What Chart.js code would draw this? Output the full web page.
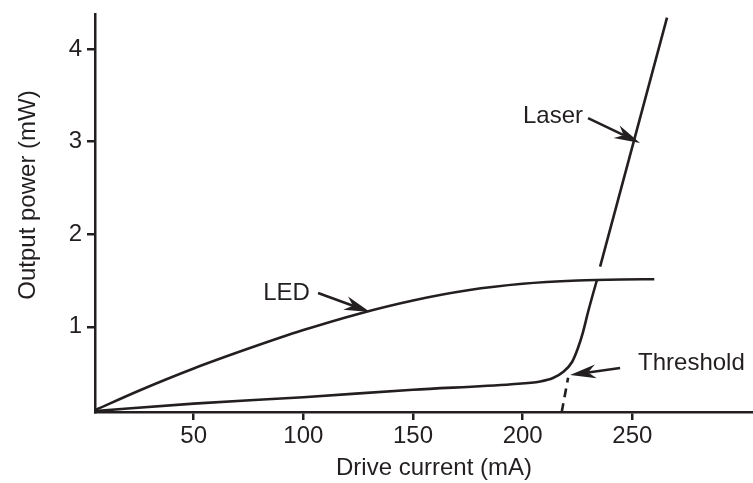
<!DOCTYPE html>
<html>
<head>
<meta charset="utf-8">
<script src="https://cdn.jsdelivr.net/npm/chart.js@4"></script>
<style>
  html, body { margin: 0; padding: 0; background: #fff; }
  #wrap { width: 753px; height: 483px; }
</style>
</head>
<body>
<div id="wrap"><canvas id="chart"></canvas></div>
<script>
// values (x = drive current mA, y = output power mW)
var ledX = [5, 25, 50, 75, 100, 125, 150, 175, 200, 225, 245, 260];
var ledY = [0.10, 0.31, 0.55, 0.765, 0.965, 1.14, 1.285, 1.395, 1.465, 1.50, 1.512, 1.515];

var laserLowX = [5, 50, 100, 150, 195, 208, 213.8, 218.4, 222.5, 225.2, 227.5, 229.8, 232.1, 233.9];
var laserLowY = [0.09, 0.17, 0.24, 0.32, 0.38, 0.41, 0.447, 0.512, 0.62, 0.771, 0.944, 1.16, 1.36, 1.51];

var laserHighX = [235.3, 265.8];
var laserHighY = [1.65, 4.34];

var thresholdX = [217.8, 220.7];
var thresholdY = [0.08, 0.45];

var xTicks = [50, 100, 150, 200, 250];
var yTicks = [1, 2, 3, 4];

var xTitle = "Drive current (mA)";
var yTitle = "Output power (mW)";

// callouts: text at (tx,ty), arrow from (ax,ay) to (bx,by), all in data units
var notes = [
  {text: "LED", tx: 103, ty: 1.36, align: "right", ax: 106.7, ay: 1.366, bx: 130.4, by: 1.16},
  {text: "Laser", tx: 227.5, ty: 3.27, align: "right", ax: 229.8, ay: 3.256, bx: 253.5, by: 2.986},
  {text: "Threshold", tx: 252.6, ty: 0.60, align: "left", ax: 244.4, ay: 0.555, bx: 221.6, by: 0.48}
];

var INK = "#231f20";
var FONT = "'Liberation Sans', Arial, sans-serif";

function pts(xs, ys) {
  var out = [];
  for (var i = 0; i < xs.length; i++) out.push({x: xs[i], y: ys[i]});
  return out;
}

function drawArrow(ctx, x1, y1, x2, y2) {
  var ang = Math.atan2(y2 - y1, x2 - x1);
  var len = 26, half = 7;
  ctx.save();
  ctx.translate(x2, y2);
  ctx.rotate(ang);
  var d = Math.hypot(x2 - x1, y2 - y1);
  ctx.lineWidth = 2.5;
  ctx.beginPath();
  ctx.moveTo(-d, 0);
  ctx.lineTo(-len * 0.7, 0);
  ctx.stroke();
  ctx.beginPath();
  ctx.moveTo(0, 0);
  ctx.lineTo(-len, half);
  ctx.lineTo(-len * 0.7, 0);
  ctx.lineTo(-len, -half);
  ctx.closePath();
  ctx.fill();
  ctx.restore();
}

var annotate = {
  id: "annotate",
  afterDraw: function(chart) {
    var ctx = chart.ctx, xs = chart.scales.x, ys = chart.scales.y;
    ctx.save();
    ctx.fillStyle = INK;
    ctx.strokeStyle = INK;
    ctx.font = "24px " + FONT;
    ctx.textBaseline = "middle";
    notes.forEach(function(n) {
      ctx.textAlign = n.align;
      ctx.fillText(n.text, xs.getPixelForValue(n.tx), ys.getPixelForValue(n.ty));
      drawArrow(ctx, xs.getPixelForValue(n.ax), ys.getPixelForValue(n.ay),
                xs.getPixelForValue(n.bx), ys.getPixelForValue(n.by));
    });
    // axis titles
    ctx.textAlign = "center";
    ctx.fillText(xTitle, 434, 468);
    ctx.translate(28, 195);
    ctx.rotate(-Math.PI / 2);
    ctx.fillText(yTitle, 0, 0);
    ctx.restore();
  }
};

var lineStyle = {
  showLine: true,
  borderColor: INK,
  borderWidth: 2.6,
  pointRadius: 0,
  cubicInterpolationMode: "monotone",
  fill: false
};

var chart = new Chart(document.getElementById("chart"), {
  type: "scatter",
  data: {
    datasets: [
      Object.assign({label: "LED", data: pts(ledX, ledY)}, lineStyle),
      Object.assign({label: "Laser", data: pts(laserLowX, laserLowY)}, lineStyle),
      Object.assign({label: "Laser (above)", data: pts(laserHighX, laserHighY)}, lineStyle),
      Object.assign({label: "Threshold", data: pts(thresholdX, thresholdY), borderDash: [9, 6]}, lineStyle)
    ]
  },
  options: {
    responsive: true,
    maintainAspectRatio: false,
    animation: false,
    layout: { padding: { top: 14, right: 0, left: 0, bottom: 0 } },
    plugins: {
      legend: { display: false },
      tooltip: { enabled: false }
    },
    scales: {
      x: {
        type: "linear",
        min: 5,
        max: 305,
        afterBuildTicks: function(scale) { scale.ticks = xTicks.map(function(v) { return {value: v}; }); },
        afterFit: function(scale) { scale.height = 71; scale.paddingLeft = 0; scale.paddingRight = 0; },
        ticks: { color: INK, font: { family: FONT, size: 24 }, padding: 2, maxRotation: 0 },
        grid: { drawOnChartArea: false, drawTicks: true, tickLength: 8, color: INK, lineWidth: 2.5 },
        border: { display: true, color: INK, width: 2.5 }
      },
      y: {
        type: "linear",
        min: 0.08,
        max: 4.38,
        afterBuildTicks: function(scale) { scale.ticks = yTicks.map(function(v) { return {value: v}; }); },
        afterFit: function(scale) { scale.width = 95; scale.paddingTop = 0; scale.paddingBottom = 0; },
        ticks: { color: INK, font: { family: FONT, size: 24 }, padding: 5 },
        grid: { drawOnChartArea: false, drawTicks: true, tickLength: 8, color: INK, lineWidth: 2.5 },
        border: { display: true, color: INK, width: 2.5 }
      }
    }
  },
  plugins: [annotate]
});
</script>
</body>
</html>
